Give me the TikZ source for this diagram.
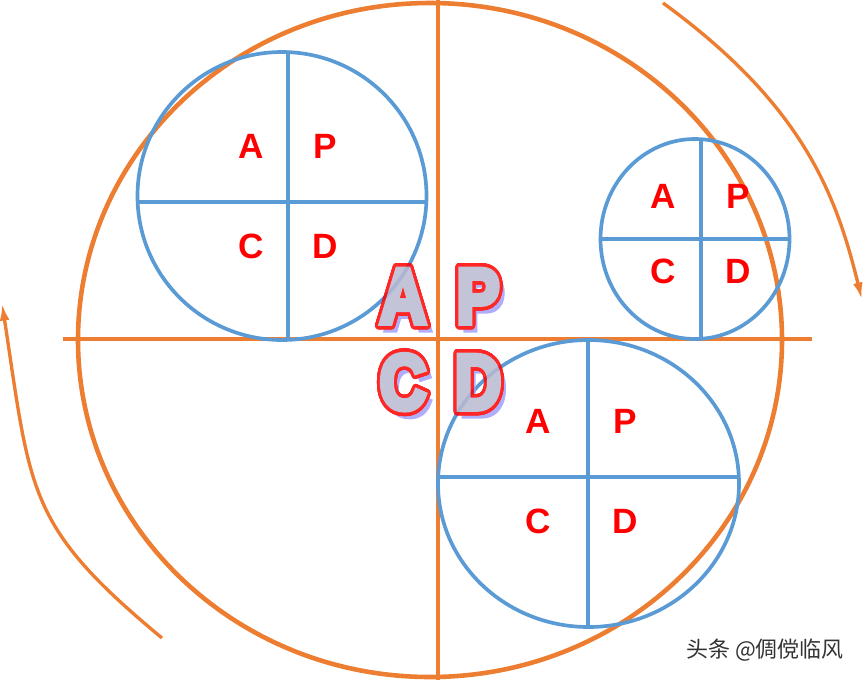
\documentclass[tikz,border=0pt]{standalone}
\usepackage{fontspec}
\setmainfont{Liberation Sans}
\newfontfamily\cjkfont{Noto Sans CJK SC}
\newfontfamily\heavyfont{Liberation Sans Bold}[FakeBold=7]
\usepackage[copies]{contour}
\contourlength{1.7pt}
\contournumber{40}
\usetikzlibrary{arrows.meta}
\definecolor{orng}{HTML}{ED7D31}
\definecolor{bl}{HTML}{5B9BD5}
\definecolor{ltrfill}{RGB}{186,186,210}
\definecolor{ltrshade}{RGB}{160,160,250}

\begin{document}
\begin{tikzpicture}[x=0.02cm, y=-0.02cm,
  orngline/.style={draw=orng, line width=2.6pt},
  ring/.style={draw=bl, line width=2.1pt},
  ltr/.style={inner sep=0, text=red, font=\fontsize{20}{24}\selectfont\bfseries},
  bigltr/.style={inner sep=0, text=ltrfill, font=\heavyfont\fontsize{37}{42}\selectfont},
  bigshadow/.style={inner sep=0, text=ltrshade, font=\heavyfont\fontsize{37}{42}\selectfont},
  ar/.style={->,>={Latex[length=10pt,width=5.5pt]}, draw=orng, line width=1.9pt},
  wm/.style={inner sep=0, text=black!80, font=\cjkfont\fontsize{12.5}{14}\selectfont}
  ] %
    \useasboundingbox (0,0) rectangle (864,680);
    % big circle and axes
    \draw[orngline] (430,340) ellipse [x radius=352, y radius=337];
    \draw[orngline] (63,339) -- (812,339);
    \draw[orngline] (438,0) -- (438,680);
    % upper left circle
    \draw[ring] (282,196) ellipse [x radius=144.5, y radius=144];
    \draw[ring] (288,52) -- (288,340);
    \draw[ring] (138,202) -- (426,202);
    \node[ltr] (a1) at (251,146) {A};
    \node[ltr] (p1) at (325,146) {P};
    \node[ltr] (c1) at (251,246) {C};
    \node[ltr] (d1) at (325,246) {D};
    % upper right circle
    \draw[ring] (695,239) ellipse [x radius=94.5, y radius=100];
    \draw[ring] (701,139) -- (701,339);
    \draw[ring] (600.5,239) -- (789.5,239);
    \node[ltr] (a2) at (663,196) {A};
    \node[ltr] (p2) at (738,196) {P};
    \node[ltr] (c2) at (663,271) {C};
    \node[ltr] (d2) at (738,271) {D};
    % lower right circle
    \draw[ring] (588.5,483.5) ellipse [x radius=150.5, y radius=143.5];
    \draw[ring] (588,340) -- (588,627);
    \draw[ring] (438,477) -- (739,477);
    \node[ltr] (a3) at (538,421) {A};
    \node[ltr] (p3) at (625,421) {P};
    \node[ltr] (c3) at (538,521) {C};
    \node[ltr] (d3) at (625,521) {D};
    % big letters
    \begin{scope}[transparency group, opacity=0.85]
      \node[bigshadow] (shA) at (408,303) {\scalebox{1}[1.2]{A}};
      \node[bigshadow] (shP) at (483,303) {\scalebox{1}[1.2]{P}};
      \node[bigshadow] (shC) at (408,389) {\scalebox{1}[1.2]{C}};
      \node[bigshadow] (shD) at (483,389) {\scalebox{1}[1.2]{D}};
      \node[bigltr] (bigA) at (403,298) {\scalebox{1}[1.2]{\contour{red}{A}}};
      \node[bigltr] (bigP) at (478,298) {\scalebox{1}[1.2]{\contour{red}{P}}};
      \node[bigltr] (bigC) at (403,384) {\scalebox{1}[1.2]{\contour{red}{C}}};
      \node[bigltr] (bigD) at (478,384) {\scalebox{1}[1.2]{\contour{red}{D}}};
    \end{scope}
    % arrows
    \coordinate (rs) at (663,3);
    \coordinate (re) at (862,300);
    \draw[ar] (rs) .. controls (803,105) and (836,194) .. (re);
    \coordinate (ls) at (162,638);
    \coordinate (le) at (2,303);
    \draw[ar] (ls) .. controls (27,526) and (31,494) .. (le);
    \node[wm] (wmark) at (765,650) {头条 @倜傥临风};
  \end{tikzpicture}
\end{document}
